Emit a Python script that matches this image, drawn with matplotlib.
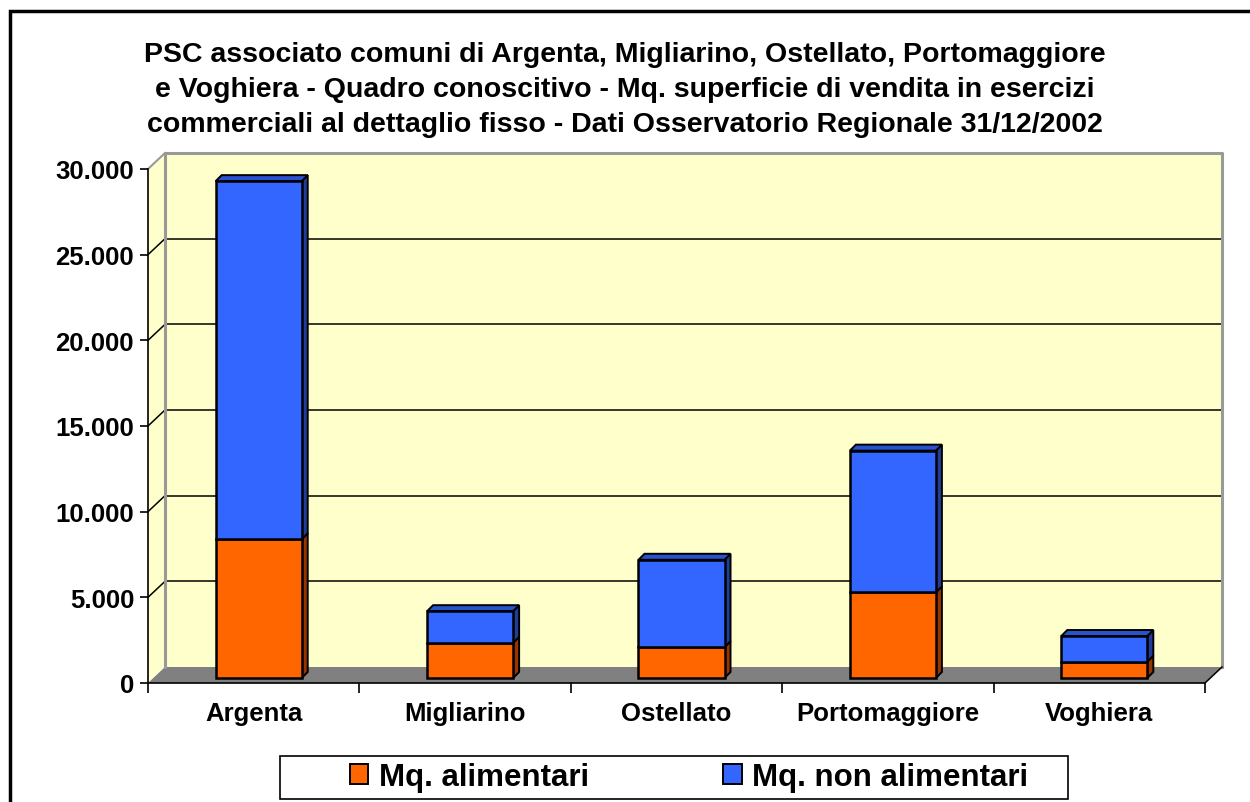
import matplotlib
matplotlib.use("Agg")
import matplotlib.pyplot as plt
import matplotlib.transforms as mtransforms
from matplotlib.patches import Rectangle, Polygon

# =========================================
# Data
# =========================================
comuni = ["Argenta", "Migliarino", "Ostellato", "Portomaggiore", "Voghiera"]
mq_alimentari = [8100, 2050, 1800, 5000, 950]
mq_non_alimentari = [20900, 1850, 5100, 8270, 1500]
serie_labels = ["Mq. alimentari", "Mq. non alimentari"]
y_ticks = [0, 5000, 10000, 15000, 20000, 25000, 30000]
y_tick_labels = ["0", "5.000", "10.000", "15.000", "20.000", "25.000", "30.000"]
titolo = ("PSC associato comuni di Argenta, Migliarino, Ostellato, Portomaggiore\n"
          "e Voghiera - Quadro conoscitivo - Mq. superficie di vendita in esercizi\n"
          "commerciali al dettaglio fisso - Dati Osservatorio Regionale 31/12/2002")

# colours (front, side, top)
orange = ("#FF6600", "#993300", "#CC5200")
blue = ("#3366FF", "#1F3D99", "#2952CC")
wall_col = "#FFFFCC"
floor_col = "#808080"
edge_col = "#999999"

plt.rcParams["font.family"] = ["Liberation Sans", "DejaVu Sans"]
plt.rcParams["font.weight"] = "bold"

W, H, DPI = 1250, 803, 100
fig = plt.figure(figsize=(W / DPI, H / DPI), dpi=DPI)

# front plane of the 3d box, in pixels
left_px, right_px, top_px, bot_px = 148, 1205, 170, 684
ax = fig.add_axes([left_px / W, 1 - bot_px / H, (right_px - left_px) / W, (bot_px - top_px) / H])
ax.set_xlim(-0.5, 4.5)
ax.set_ylim(0, 30000)
ax.patch.set_visible(False)

# pixel -> data unit conversions
px_x = (right_px - left_px) / 5.0
px_y = (bot_px - top_px) / 30000.0

# =========================================
# Walls and floor (depth 17 x 16 px)
# =========================================
DX = 17 / px_x
DY = 16 / px_y
x0, x1 = -0.5, 4.5
ymax = 30000

back = Rectangle((x0 + DX, DY), x1 - x0, ymax, facecolor=wall_col, edgecolor="none",
                 zorder=0.5, clip_on=False)
ax.add_patch(back)
side = Polygon([(x0, 0), (x0, ymax), (x0 + DX, ymax + DY), (x0 + DX, DY)],
               closed=True, facecolor=wall_col, edgecolor="none", zorder=0.5, clip_on=False)
ax.add_patch(side)
floor = Polygon([(x0, 0), (x0 + DX, DY), (x1 + DX, DY), (x1, 0)],
                closed=True, facecolor=floor_col, edgecolor="none", zorder=0.8, clip_on=False)
ax.add_patch(floor)

# gridlines on back wall + diagonals on side wall
for t in y_ticks[1:-1]:
    ax.plot([x0 + DX, x1 + DX], [t + DY, t + DY], color="black", lw=1.1, zorder=0.9, clip_on=False)
    ax.plot([x0, x0 + DX], [t, t + DY], color="black", lw=1.1, zorder=0.9, clip_on=False)

# grey border of back wall
ax.plot([x0 + DX, x0 + DX, x1 + DX, x1 + DX], [DY, ymax + DY, ymax + DY, DY],
        color=edge_col, lw=2.2, zorder=0.95, clip_on=False)
ax.plot([x0, x0 + DX], [ymax, ymax + DY], color=edge_col, lw=1.5, zorder=0.95, clip_on=False)
ax.plot([x1, x1 + DX], [0, DY], color="black", lw=1.1, zorder=0.95, clip_on=False)

# =========================================
# Bars (shifted 5 px into the box, 6 px deep)
# =========================================
bar_tr = mtransforms.offset_copy(ax.transData, fig=fig, x=5, y=5, units="dots")
bw = 0.407
bdx = 6 / px_x
bdy = 6 / px_y
xs = list(range(len(comuni)))

def draw_segment(x, bottom, value, cols, top_face):
    xl, xr = x - bw / 2, x + bw / 2
    yb, yt = bottom, bottom + value
    ax.add_patch(Polygon([(xr, yb), (xr + bdx, yb + bdy), (xr + bdx, yt + bdy), (xr, yt)],
                         closed=True, facecolor=cols[1], edgecolor="black", lw=1.4,
                         transform=bar_tr, zorder=2, clip_on=False))
    if top_face:
        ax.add_patch(Polygon([(xl, yt), (xl + bdx, yt + bdy), (xr + bdx, yt + bdy), (xr, yt)],
                             closed=True, facecolor=cols[2], edgecolor="black", lw=1.4,
                             transform=bar_tr, zorder=2, clip_on=False))

ax.bar(xs, mq_alimentari, width=bw, color=orange[0], edgecolor="black", lw=1.8,
       transform=bar_tr, zorder=3, clip_on=False)
ax.bar(xs, mq_non_alimentari, width=bw, bottom=mq_alimentari, color=blue[0], edgecolor="black",
       lw=1.8, transform=bar_tr, zorder=3, clip_on=False)
for i in xs:
    draw_segment(i, 0, mq_alimentari[i], orange, False)
    draw_segment(i, mq_alimentari[i], mq_non_alimentari[i], blue, True)

# =========================================
# Axes
# =========================================
for s in ["top", "right"]:
    ax.spines[s].set_visible(False)
ax.spines["left"].set_linewidth(1.2)
ax.spines["bottom"].set_linewidth(1.2)
ax.spines["left"].set_zorder(4)
ax.spines["bottom"].set_zorder(4)

ax.set_yticks(y_ticks)
ax.set_yticklabels(y_tick_labels, fontsize=18.5, fontweight="bold")
ax.tick_params(axis="y", direction="out", length=6, width=1.2, pad=4)

ax.set_xticks([-0.5, 0.5, 1.5, 2.5, 3.5, 4.5])
ax.set_xticklabels([])
ax.tick_params(axis="x", which="major", direction="out", length=7, width=1.2)
ax.set_xticks(xs, minor=True)
ax.set_xticklabels(comuni, minor=True, fontsize=18.5, fontweight="bold")
ax.tick_params(axis="x", which="minor", length=0, pad=13)

# =========================================
# Title, legend, border
# =========================================
fig.text(625 / W, 1 - 90 / H, titolo, ha="center", va="center", fontsize=20.5,
         fontweight="bold", linespacing=1.45)

fig.patches.append(Rectangle((280 / W, 1 - 800 / H), 788 / W, 43 / H, transform=fig.transFigure,
                             facecolor="white", edgecolor="black", lw=1.2))
handles = [Rectangle((0, 0), 1, 1, facecolor=orange[0], edgecolor="black", lw=1.4),
           Rectangle((0, 0), 1, 1, facecolor=blue[0], edgecolor="black", lw=1.4)]
fig.legend(handles, serie_labels, loc="center", bbox_to_anchor=(689 / W, 1 - 778 / H),
           ncol=2, frameon=False, prop={"size": 22.5, "weight": "bold"},
           handlelength=0.6, handleheight=0.6, handletextpad=0.33, columnspacing=4.3)

fig.patches.append(Rectangle((10 / W, -0.1), 1.2, 1.1 - 12 / H, transform=fig.transFigure,
                             facecolor="none", edgecolor="black", lw=2.5))

fig.savefig("out.png", dpi=DPI)
